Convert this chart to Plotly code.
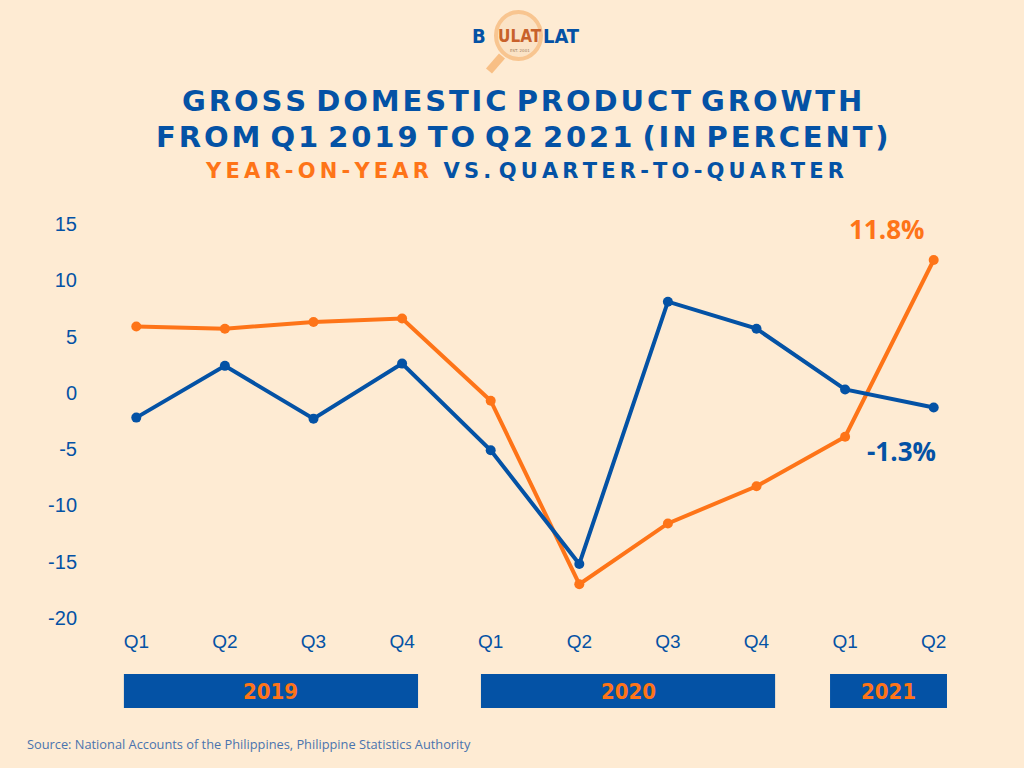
import plotly.graph_objects as go

# Dados (PIB das Filipinas, % de crescimento)
quarters = ["Q1", "Q2", "Q3", "Q4", "Q1", "Q2", "Q3", "Q4", "Q1", "Q2"]
yoy = [5.9, 5.7, 6.3, 6.6, -0.7, -17.0, -11.6, -8.3, -3.9, 11.8]
qoq = [-2.2, 2.4, -2.3, 2.6, -5.1, -15.2, 8.1, 5.7, 0.3, -1.3]
years = ["2019", "2020", "2021"]
year_spans = [(-0.14, 3.18), (3.89, 7.21), (7.83, 9.15)]
y_ticks = [-20, -15, -10, -5, 0, 5, 10, 15]

BG = "#feebd3"
BLUE = "#0452a5"
ORANGE = "#fe7418"

# área do gráfico em pixels (para converter posições em coordenadas "paper")
L, T, W, H = 92, 224, 886, 394


def px(xp):
    return (xp - L) / W


def py(yp):
    return (T + H - yp) / H


def spaced(text, sep):
    # imita o espaçamento entre letras do título original
    return " ".join(sep.join(word) for word in text.split(" "))


x = list(range(len(quarters)))

fig = go.Figure()
fig.add_trace(go.Scatter(
    x=x, y=yoy, mode="lines+markers", name="Year-on-year",
    line=dict(color=ORANGE, width=4), marker=dict(color=ORANGE, size=10),
))
fig.add_trace(go.Scatter(
    x=x, y=qoq, mode="lines+markers", name="Quarter-to-quarter",
    line=dict(color=BLUE, width=4), marker=dict(color=BLUE, size=10),
))

# Barras dos anos abaixo dos trimestres
for label, (x0, x1) in zip(years, year_spans):
    fig.add_shape(type="rect", xref="x", yref="paper", x0=x0, x1=x1,
                  y0=py(708), y1=py(674), fillcolor=BLUE, line=dict(width=0))
    fig.add_annotation(xref="x", yref="paper", x=(x0 + x1) / 2, y=py(691),
                       xanchor="center", yanchor="middle",
                       text=f"<b>{label}</b>", showarrow=False,
                       font=dict(family="DejaVu Sans Condensed", size=22, color=ORANGE))

# Rótulos dos últimos valores
fig.add_annotation(x=8.47, y=14.6, xanchor="center", yanchor="middle",
                   text="<b>11.8%</b>", showarrow=False,
                   font=dict(family="Open Sans", size=26, color=ORANGE))
fig.add_annotation(x=8.64, y=-5.2, xanchor="center", yanchor="middle",
                   text="<b>-1.3%</b>", showarrow=False,
                   font=dict(family="Open Sans", size=26, color=BLUE))

# Títulos
for line, ypos in [("GROSS DOMESTIC PRODUCT GROWTH", 101),
                   ("FROM Q1 2019 TO Q2 2021 (IN PERCENT)", 137)]:
    fig.add_annotation(xref="paper", yref="paper", x=px(522), xanchor="center",
                       y=py(ypos), yanchor="middle", showarrow=False,
                       text=f"<b>{spaced(line, chr(0x200A))}</b>",
                       font=dict(family="DejaVu Sans", size=29, color=BLUE))
fig.add_annotation(xref="paper", yref="paper", x=px(524), xanchor="center",
                   y=py(171), yanchor="middle", showarrow=False,
                   text=(f"<b><span style='color:{ORANGE}'>{spaced('YEAR-ON-YEAR', chr(0x2009))}</span>"
                         f"&nbsp; {spaced('VS. QUARTER-TO-QUARTER', chr(0x2009))}</b>"),
                   font=dict(family="DejaVu Sans", size=21, color=BLUE))

# Logo (lupa + texto)
fig.add_shape(type="line", xref="paper", yref="paper",
              x0=px(502), y0=py(56), x1=px(489), y1=py(71),
              line=dict(color="#f8bf85", width=8))
fig.add_shape(type="circle", xref="paper", yref="paper",
              x0=px(496), x1=px(541), y0=py(59), y1=py(12),
              fillcolor="#fbe3c6", line=dict(color="#f8c590", width=4))
fig.add_annotation(xref="paper", yref="paper", x=px(479), y=py(36),
                   xanchor="center", yanchor="middle",
                   text="<b>B</b>", showarrow=False,
                   font=dict(family="DejaVu Sans Condensed", size=20, color=BLUE))
fig.add_annotation(xref="paper", yref="paper", x=px(520), y=py(36),
                   xanchor="center", yanchor="middle",
                   text="<b>ULAT</b>", showarrow=False,
                   font=dict(family="DejaVu Sans Condensed", size=17, color="#c8612b"))
fig.add_annotation(xref="paper", yref="paper", x=px(561), y=py(36),
                   xanchor="center", yanchor="middle",
                   text="<b>LAT</b>", showarrow=False,
                   font=dict(family="DejaVu Sans Condensed", size=20, color=BLUE))
fig.add_annotation(xref="paper", yref="paper", x=px(520), y=py(51),
                   xanchor="center", yanchor="middle",
                   text="EST. 2001", showarrow=False,
                   font=dict(family="DejaVu Sans", size=4, color="#a08060"))

# Fonte
fig.add_annotation(xref="paper", yref="paper", x=px(25), xanchor="left",
                   y=py(744), yanchor="middle", showarrow=False,
                   text="Source: National Accounts of the Philippines, Philippine Statistics Authority",
                   font=dict(family="Open Sans", size=12.8, color="#4a74ae"))

fig.update_layout(
    width=1024, height=768,
    paper_bgcolor=BG, plot_bgcolor=BG,
    margin=dict(l=L, r=1024 - L - W, t=T, b=768 - T - H),
    showlegend=False,
    xaxis=dict(range=[-0.5, 9.5], tickvals=x, ticktext=quarters, showgrid=False,
               zeroline=False, showline=False, ticks="", ticklabelstandoff=10,
               tickfont=dict(family="Liberation Sans", size=19, color=BLUE)),
    yaxis=dict(range=[-20, 15], tickvals=y_ticks, ticktext=[str(v) for v in y_ticks],
               showgrid=False, zeroline=False, showline=False, ticks="",
               ticklabelstandoff=14,
               tickfont=dict(family="Liberation Sans", size=20, color=BLUE)),
)

fig.write_html("out.html", config={"displayModeBar": False},
               post_script="document.body.style.margin='0';")
